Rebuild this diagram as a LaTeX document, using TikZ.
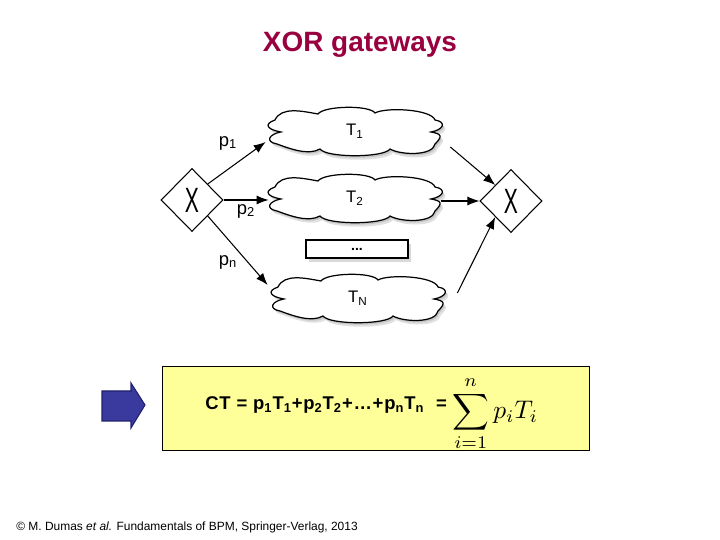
\documentclass[tikz,border=0pt]{standalone}
\usepackage{amsmath}
\usepackage[no-math]{fontspec}
\setmainfont{Liberation Sans}
\usetikzlibrary{shapes.geometric, shadows, backgrounds, arrows.meta}
\definecolor{xortitle}{HTML}{990040}
\definecolor{boxyellow}{HTML}{FFFF99}
\definecolor{arrowblue}{HTML}{3A3A9E}
\definecolor{arrowedge}{HTML}{1F1F6E}

% cloud outline, in pixel units round the task centre
\newcommand{\cloudpath}{(-80,11) to[out=65,in=170,looseness=0.9] (-37,17)
    to[out=55,in=125,looseness=0.45] (20,18)
    to[out=30,in=110,looseness=0.5] (80,11)
    to[out=-10,in=10,looseness=2.5] (76,-1)
    to[out=-10,in=45,looseness=2.2] (80,-13)
    to[out=-100,in=-30,looseness=0.7] (35,-18)
    to[out=-125,in=-55,looseness=0.4] (-35,-18)
    to[out=-150,in=-20,looseness=0.8] (-78,-13)
    to[out=170,in=190,looseness=2.5] (-74,-1)
    to[out=170,in=200,looseness=2.5] cycle}
\newcommand{\taskcloud}[1]{%
    \begin{scope}[on background layer, shift={(#1.center)}, x=0.02cm, y=0.02cm]
        \fill[black, opacity=0.12, shift={(1.5,-2)}] \cloudpath;
        \fill[black, opacity=0.12, shift={(3,-4)}] \cloudpath;
        \filldraw[fill=white, line width=0.7pt] \cloudpath;
    \end{scope}}

\begin{document}
\begin{tikzpicture}[
    task/.style={minimum width=3.44cm, minimum height=0.8cm, inner sep=0pt,
        font=\fontsize{9.5}{11}\selectfont},
    gateway/.style={diamond, draw, fill=white, line width=0.6pt, minimum width=1.24cm,
        minimum height=1.26cm, inner sep=0pt, font=\fontsize{20}{20}\selectfont},
    flow/.style={-{Latex[length=2.4mm, width=1.8mm]}, line width=0.6pt},
    lbl/.style={font=\fontsize{10.5}{12}\selectfont}
]
\useasboundingbox (0,0) rectangle (14.4,10.8);

% Title
\node[font=\fontsize{15.9}{18}\selectfont\bfseries, text=xortitle] (title) at (7.2,9.9) {XOR gateways};

% Gateways
\node[gateway] (gL) at (3.84,6.8) {\scalebox{0.6}[1]{X}};
\node[gateway] (gR) at (10.22,6.78) {\scalebox{0.6}[1]{X}};

% Tasks
\node[task] (t1) at (7.1,8.18) {T\textsubscript{1}};
\taskcloud{t1}
\node[task] (t2) at (7.1,6.84) {T\textsubscript{2}};
\taskcloud{t2}
\node[draw, fill=white, line width=0.6pt, minimum width=2.04cm, minimum height=0.36cm,
    inner sep=0pt, font=\fontsize{8}{9}\selectfont\bfseries,
    drop shadow={shadow xshift=1.5pt, shadow yshift=-2pt, opacity=0.3}] (dots) at (7.14,5.82) {...};
\node[task] (tN) at (7.16,4.84) {T\textsubscript{N}};
\taskcloud{tN}

% Split flows
\draw[flow] (gL.north east) -- ([xshift=-0.06cm, yshift=-0.22cm]t1.west);
\draw[flow] (gL.east) -- (gL.east -| t2.west);
\draw[flow] (gL.south east) -- ([xshift=-0.08cm, yshift=0.26cm]tN.west);
\node[lbl] (p1) at (4.56,7.94) {p\textsubscript{1}};
\node[lbl] (p2) at (4.92,6.58) {p\textsubscript{2}};
\node[lbl] (pn) at (4.56,5.56) {p\textsubscript{n}};

% Join flows
\draw[flow] ([xshift=0.18cm, yshift=-0.32cm]t1.east) -- (gR.north west);
\draw[flow] (gR.west -| t2.east) -- (gR.west);
\draw[flow] ([xshift=0.26cm, yshift=0.1cm]tN.east) -- (gR.south west);

% Cycle time
\filldraw[fill=arrowblue, draw=arrowedge, line width=0.6pt] (2.04,2.38) -- (2.04,2.98) -- (2.62,2.98)
    -- (2.62,3.14) -- (2.9,2.7) -- (2.62,2.24) -- (2.62,2.38) -- cycle;
\node[draw, fill=boxyellow, line width=0.5pt, minimum width=8.54cm, minimum height=1.68cm] (ctbox) at (7.51,2.64) {};
\node[anchor=base west, inner sep=0pt, font=\fontsize{10.5}{12}\selectfont\bfseries] (ctform) at (4.1,2.6)
    {\addfontfeature{LetterSpace=4}CT = p\textsubscript{1}T\textsubscript{1}+p\textsubscript{2}T\textsubscript{2}+\ldots+p\textsubscript{n}T\textsubscript{n}\ \ =\hspace{0.3em}%
    \fontsize{10}{12}\selectfont\raisebox{-5pt}{\scalebox{1.45}{$\displaystyle\sum_{i=1}^{n} p_iT_i$}}};

% Credit
\node[anchor=west, inner sep=0pt, font=\fontsize{6.8}{8}\selectfont] (credit) at (0.32,0.26)
    {\textcopyright\ M. Dumas \textit{et al.} Fundamentals of BPM, Springer-Verlag, 2013};

\end{tikzpicture}
\end{document}
